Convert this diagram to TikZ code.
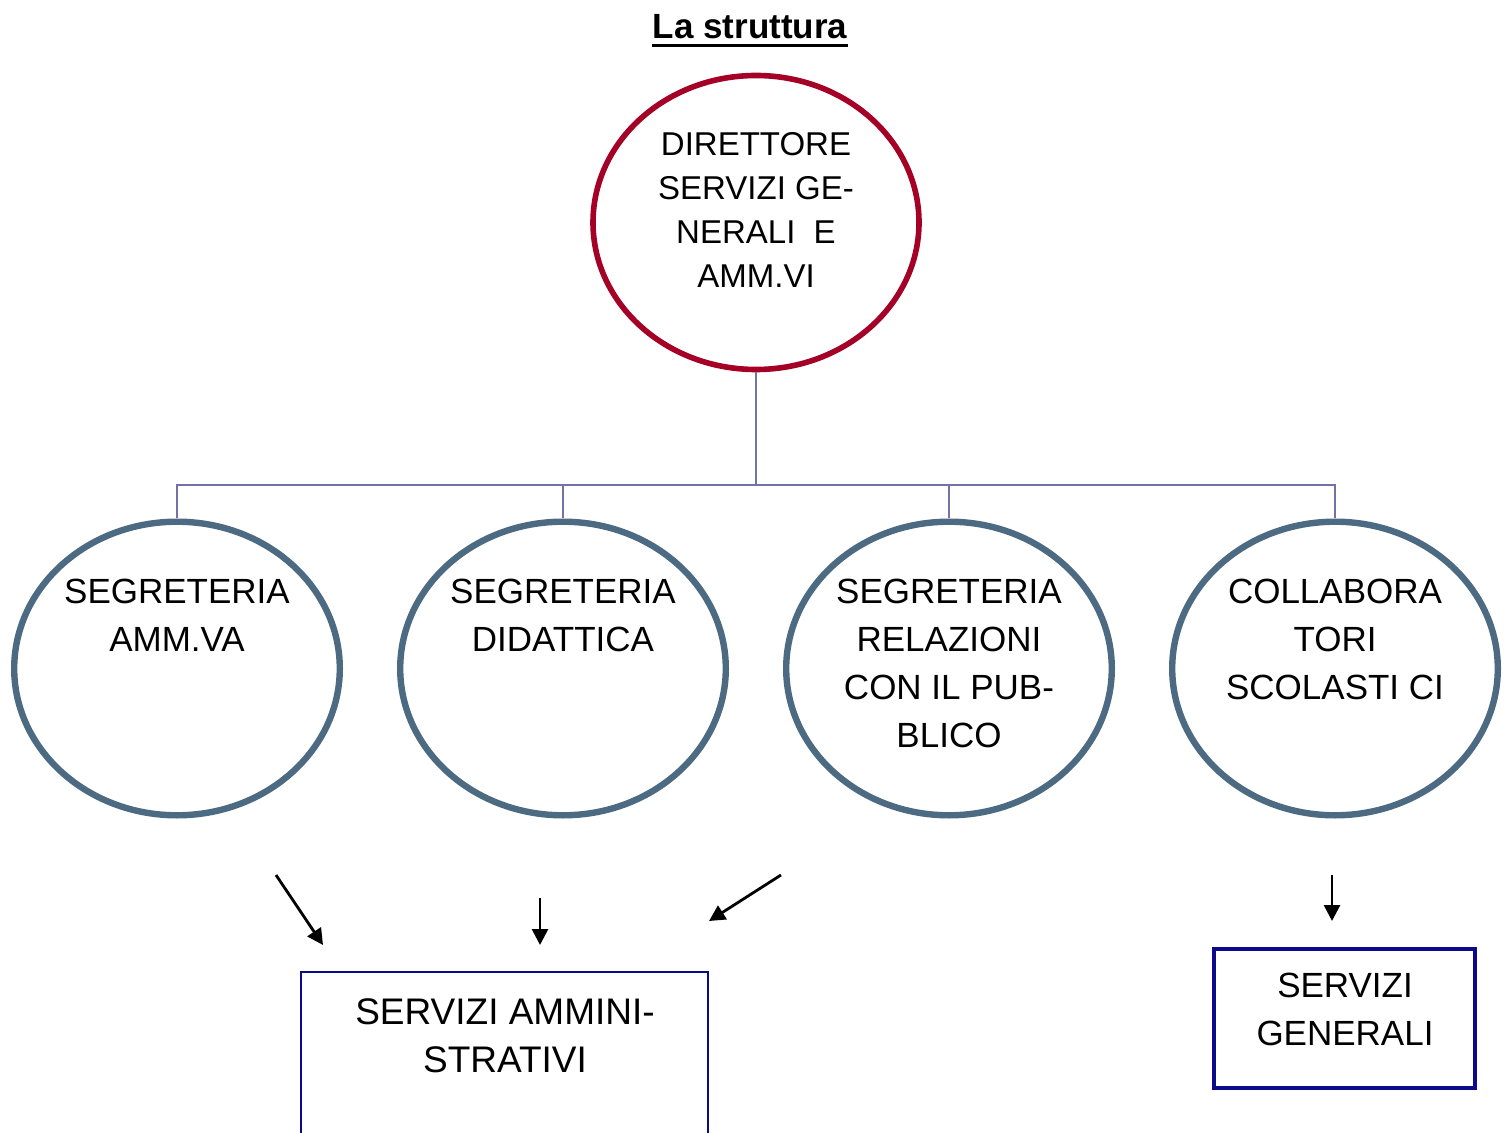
\documentclass[tikz,border=0pt]{standalone}
\usepackage{fontspec}
\setmainfont{Liberation Sans}
\usetikzlibrary{shapes.geometric,arrows.meta}
\definecolor{headred}{HTML}{A50026}
\definecolor{officeblue}{HTML}{4C6A82}
\definecolor{busline}{HTML}{7272A6}
\definecolor{boxnavy}{HTML}{0A0A8A}
\tikzset{
  headoval/.style={ellipse, draw=headred, line width=2.8pt, fill=white,
    minimum width=163pt, minimum height=147pt, inner sep=0pt},
  office/.style={ellipse, draw=officeblue, line width=3.2pt, fill=white,
    minimum width=162.8pt, minimum height=146.8pt, inner sep=0pt},
  bus/.style={draw=busline, line width=1pt},
  flow/.style={draw=black, line width=1.4pt, -{Triangle[length=8pt,width=8pt]}},
  label/.style={anchor=north, inner sep=0pt, align=center,
    font=\fontsize{17.5}{24}\selectfont},
  headlabel/.style={anchor=north, inner sep=0pt, align=center,
    font=\fontsize{16.5}{22}\selectfont},
}
\begin{document}
\begin{tikzpicture}[x=0.5pt,y=-0.5pt]
  \clip (0,0) rectangle (1509,1133);
  \fill[white] (0,0) rectangle (1509,1133);

  % title
  \node[inner sep=0pt, anchor=north, font=\fontsize{17.5}{20}\selectfont\bfseries]
    (title) at (750,14) {La struttura};
  \draw[line width=1.5pt] ([yshift=-3.5pt]title.base west) -- ([yshift=-3.5pt]title.base east);

  % director
  \node[headoval] (dir) at (756,222.5) {};
  \node[headlabel] (dirtext) at (756,132) {DIRETTORE\\SERVIZI GE-\\NERALI\ \ E\\AMM.VI};

  % offices
  \node[office] (amm) at (177,668.5) {};
  \node[office] (did) at (563,668.5) {};
  \node[office] (rel) at (949,668.5) {};
  \node[office] (col) at (1335,668.5) {};
  \node[label] (ammtext) at (177,579) {SEGRETERIA\\AMM.VA};
  \node[label] (didtext) at (563,579) {SEGRETERIA\\DIDATTICA};
  \node[label] (reltext) at (949,579) {SEGRETERIA\\RELAZIONI\\CON IL PUB-\\BLICO};
  \node[label] (coltext) at (1335,579) {COLLABORA\\TORI\\SCOLASTI CI};

  % branching connector
  \coordinate (hub) at (756,485);
  \draw[bus] (dir.south) -- (hub);
  \draw[bus] (hub) -| (amm.north);
  \draw[bus] (hub) -| (did.north);
  \draw[bus] (hub) -| (rel.north);
  \draw[bus] (hub) -| (col.north);

  % service boxes
  \node[draw=boxnavy, line width=1pt, rectangle, minimum width=203.5pt,
        minimum height=100pt, inner sep=0pt] (amministrativi) at (504,1072) {};
  \node[label, font=\fontsize{18.5}{24}\selectfont] (ammintext) at (505,998) {SERVIZI AMMINI-\\STRATIVI};
  \node[draw=boxnavy, line width=1.8pt, rectangle, minimum width=130.5pt,
        minimum height=69.5pt, inner sep=0pt] (generali) at (1344.5,1018.5) {};
  \node[label] (gentext) at (1345,973) {SERVIZI\\GENERALI};

  % arrows
  \coordinate (a1s) at (276,875);  \coordinate (a1e) at (323,945);
  \coordinate (a2s) at (540,898);  \coordinate (a2e) at (540,945);
  \coordinate (a3s) at (781,875);  \coordinate (a3e) at (709,921);
  \coordinate (a4s) at (1332,875); \coordinate (a4e) at (1332,921);
  \draw[flow] (a1s) -- (a1e);
  \draw[flow] (a2s) -- (a2e);
  \draw[flow] (a3s) -- (a3e);
  \draw[flow] (a4s) -- (a4e);
\end{tikzpicture}
\end{document}
